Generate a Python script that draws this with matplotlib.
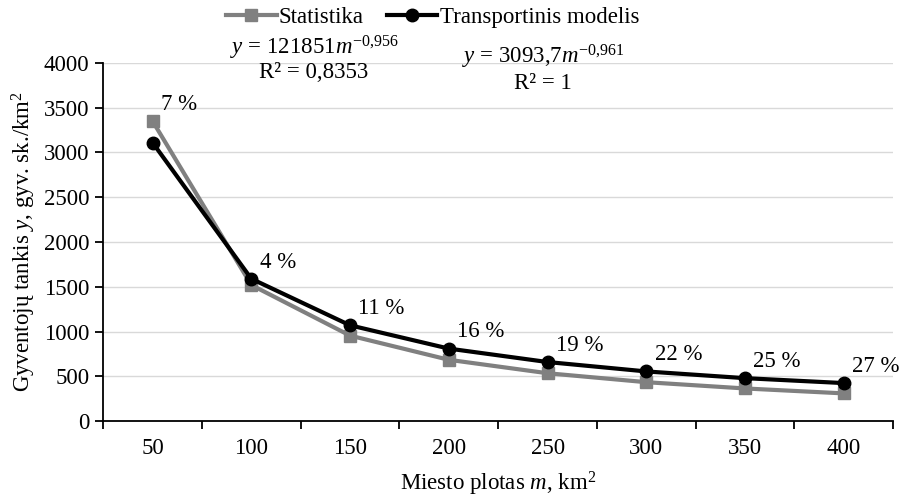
import matplotlib
matplotlib.use('Agg')
import matplotlib.pyplot as plt

plt.rcParams['font.family'] = ['Liberation Serif', 'DejaVu Serif']
plt.rcParams['mathtext.fontset'] = 'custom'
plt.rcParams['mathtext.rm'] = 'Liberation Serif'
plt.rcParams['mathtext.it'] = 'Liberation Serif:italic'

# data
plotas = ['50', '100', '150', '200', '250', '300', '350', '400']
statistika = [3350, 1520, 955, 685, 535, 435, 365, 310]
modelis = [3110, 1590, 1070, 810, 660, 555, 480, 425]
skirtumas = ['7 %', '4 %', '11 %', '16 %', '19 %', '22 %', '25 %', '27 %']

fs = 16.5

fig = plt.figure(figsize=(9.05, 4.99), dpi=100)
ax = fig.add_axes([0.114, 0.156, 0.873, 0.718])

x = list(range(len(plotas)))
ax.plot(x, statistika, color='#808080', lw=3, marker='s', ms=8.5, label='Statistika', zorder=3)
ax.plot(x, modelis, color='black', lw=3, marker='o', ms=9, label='Transportinis modelis', zorder=4)

# percent labels above the higher of the two points
for i, t in enumerate(skirtumas):
    ax.annotate(t, (x[i], max(statistika[i], modelis[i])), xytext=(6, 12),
                textcoords='offset points', ha='left', va='center', fontsize=fs)

ax.set_xlim(-0.5, len(plotas) - 0.5)
ax.set_ylim(0, 4000)
ax.set_yticks(range(0, 4001, 500))
ax.yaxis.grid(True, color='#d9d9d9', lw=1)
ax.set_axisbelow(True)

# ticks between categories, labels in the middle
ax.set_xticks([i - 0.5 for i in range(len(plotas) + 1)])
ax.set_xticklabels([])
ax.set_xticks(x, minor=True)
ax.set_xticklabels(plotas, minor=True)
ax.tick_params(axis='x', which='major', length=6, width=1.3, direction='out')
ax.tick_params(axis='x', which='minor', length=0, pad=12, labelsize=fs)
ax.tick_params(axis='y', length=6, width=1.3, direction='out', labelsize=fs, pad=4)

for s in ['top', 'right']:
    ax.spines[s].set_visible(False)
for s in ['left', 'bottom']:
    ax.spines[s].set_linewidth(1.3)

ax.set_ylabel('Gyventojų tankis $y$, gyv. sk./km$^2$', fontsize=fs, labelpad=4)
ax.set_xlabel('Miesto plotas $m$, km$^2$', fontsize=fs, labelpad=8)

fig.text(0.348, 0.905, r'$y$ = 121851$m^{\mathrm{-0{,}956}}$', ha='center', va='center', fontsize=fs)
fig.text(0.347, 0.855, 'R² = 0,8353', ha='center', va='center', fontsize=fs)
fig.text(0.600, 0.885, r'$y$ = 3093,7$m^{\mathrm{-0{,}961}}$', ha='center', va='center', fontsize=fs)
fig.text(0.600, 0.833, 'R² = 1', ha='center', va='center', fontsize=fs)

fig.legend(loc='center', bbox_to_anchor=(0.478, 0.965), ncol=2, frameon=False,
           fontsize=fs, handlelength=2.2, columnspacing=1.0, handletextpad=0.1)

plt.savefig('out.png', dpi=100)
